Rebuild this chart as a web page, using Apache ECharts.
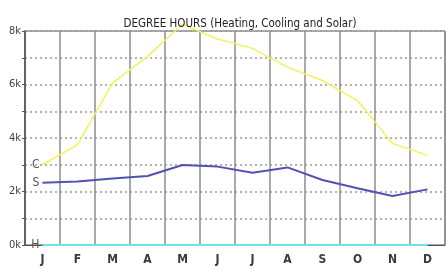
<!DOCTYPE html>
<html>
<head>
<meta charset="utf-8">
<script src="https://cdn.jsdelivr.net/npm/echarts@6/dist/echarts.min.js"></script>
<style>
  html, body { margin: 0; padding: 0; background: #fff; }
  #chart { width: 446px; height: 270px; }
</style>
</head>
<body>
<div id="chart"></div>
<script>
// months along the bottom
var months = ['J', 'F', 'M', 'A', 'M', 'J', 'J', 'A', 'S', 'O', 'N', 'D'];
// degree hours
var cooling = [3000, 3750, 6050, 7050, 8250, 7700, 7350, 6650, 6150, 5400, 3800, 3350];
var solar = [2330, 2370, 2490, 2580, 2990, 2930, 2700, 2900, 2430, 2120, 1830, 2080];
var heating = [0, 0, 0, 0, 0, 0, 0, 0, 0, 0, 0, 0];

var font = '"Liberation Sans Narrow", "DejaVu Sans Condensed", "Liberation Sans", sans-serif';

// label only the first point of a line (C / S / H)
function withStartLabel(values, text) {
  return values.map(function (v, i) {
    if (i !== 0) return v;
    return {
      value: v,
      label: {
        show: true,
        position: 'left',
        distance: 3,
        formatter: text,
        color: '#555',
        fontSize: 12,
        fontFamily: font
      }
    };
  });
}

var chart = echarts.init(document.getElementById('chart'), null, { renderer: 'canvas' });

var option = {
  backgroundColor: '#fff',
  animation: false,
  title: {
    text: 'DEGREE HOURS (Heating, Cooling and Solar)',
    left: 235,
    textAlign: 'center',
    top: 13,
    textStyle: { fontSize: 11.5, fontWeight: 'normal', color: '#222', fontFamily: font }
  },
  grid: {
    left: 25,
    top: 31,
    width: 420,
    height: 214,
    show: true,
    borderColor: '#555',
    borderWidth: 1
  },
  xAxis: {
    type: 'category',
    data: months,
    boundaryGap: true,
    axisLine: { lineStyle: { color: '#555', width: 1 } },
    axisTick: { show: false },
    axisLabel: { color: '#3a3a3a', fontSize: 12, fontWeight: 'bold', margin: 9, fontFamily: font },
    splitLine: { show: true, lineStyle: { color: '#8c8c8c', width: 1.5 } }
  },
  yAxis: {
    type: 'value',
    min: 0,
    max: 8000,
    interval: 1000,
    axisLine: { show: true, lineStyle: { color: '#555', width: 1.5 } },
    axisTick: { show: true, length: 3, lineStyle: { color: '#555' } },
    axisLabel: {
      color: '#444',
      fontSize: 11,
      margin: 4,
      fontFamily: font,
      formatter: function (v) { return v % 2000 === 0 ? (v / 1000) + 'k' : ''; }
    },
    splitLine: { show: true, lineStyle: { color: '#9a9a9a', type: [2, 3], width: 1.5 } }
  },
  series: [
    {
      name: 'Cooling',
      type: 'line',
      data: withStartLabel(cooling, 'C'),
      symbol: 'circle',
      symbolSize: 0.1,
      clip: false,
      lineStyle: { color: '#f2f25c', width: 1.5 },
      z: 3
    },
    {
      name: 'Solar',
      type: 'line',
      data: withStartLabel(solar, 'S'),
      symbol: 'circle',
      symbolSize: 0.1,
      lineStyle: { color: '#5252b4', width: 2 },
      z: 4
    },
    {
      name: 'Heating',
      type: 'line',
      data: withStartLabel(heating, 'H'),
      symbol: 'circle',
      symbolSize: 0.1,
      clip: false,
      lineStyle: { color: '#6fe3ec', width: 2 },
      z: 5
    }
  ]
};

chart.setOption(option);
</script>
</body>
</html>
